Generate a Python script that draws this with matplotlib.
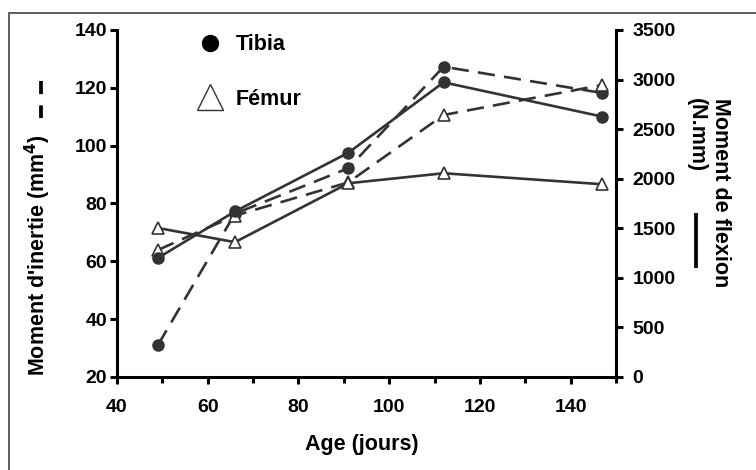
import matplotlib.pyplot as plt
from matplotlib.lines import Line2D
from matplotlib.patches import Rectangle
from matplotlib.ticker import MultipleLocator

plt.rcParams['font.family'] = ['Liberation Sans', 'DejaVu Sans']
plt.rcParams['font.weight'] = 'bold'

age = [49, 66, 91, 112, 147]
# moment d'inertie (mm4), left axis, dashed
tibia_inertie = [31, 76.5, 92.2, 127.3, 118.2]
femur_inertie = [63.9, 75.8, 87.3, 110.6, 121]
# moment de flexion (N.mm), right axis, solid
tibia_flexion = [1200, 1670, 2262, 2972, 2626]
femur_flexion = [1503, 1360, 1954, 2055, 1944]

ink = "#333333"
dash = (0, (6.5, 3.5))

fig = plt.figure(figsize=(7.56, 4.70), dpi=100)
ax = fig.add_axes([0.1548, 0.1979, 0.66, 0.7383])
ax2 = ax.twinx()

ax.plot(age, tibia_inertie, ls=dash, color=ink, lw=1.9, marker='o', ms=8, zorder=3)
ax.plot(age, femur_inertie, ls=dash, color=ink, lw=1.9, marker='^', ms=9,
        mfc='white', mec=ink, mew=1.2, zorder=3)
ax2.plot(age, tibia_flexion, ls='-', color=ink, lw=1.9, marker='o', ms=8)
ax2.plot(age, femur_flexion, ls='-', color=ink, lw=1.9, marker='^', ms=9,
         mfc='white', mec=ink, mew=1.2)

ax.set_xlim(40, 150)
ax.set_ylim(20, 140)
ax2.set_ylim(0, 3500)
ax.xaxis.set_major_locator(MultipleLocator(20))
ax.xaxis.set_minor_locator(MultipleLocator(10))
ax.yaxis.set_major_locator(MultipleLocator(20))
ax2.yaxis.set_major_locator(MultipleLocator(500))

for a in (ax, ax2):
    a.spines['top'].set_visible(False)
    for s in ('left', 'right', 'bottom'):
        a.spines[s].set_linewidth(2.2)
        a.spines[s].set_color('black')
ax.spines['right'].set_visible(False)
ax2.spines['left'].set_visible(False)
ax2.spines['bottom'].set_visible(False)

ax.tick_params(axis='x', which='major', direction='out', length=5, width=2.2,
               labelsize=14, pad=11)
ax.tick_params(axis='x', which='minor', direction='out', length=4.5, width=2.2)
ax.tick_params(axis='y', direction='out', length=5, width=2.2, labelsize=14, pad=2)
ax2.tick_params(axis='y', direction='out', length=5, width=2.2, labelsize=14, pad=7)

ax.set_xlabel("Age (jours)", fontsize=15.5, fontweight='bold')
ax.xaxis.set_label_coords(0.49, -0.165)
ax.set_ylabel("Moment d'inertie (mm$^\\mathbf{4}$)", fontsize=15.5, fontweight='bold')
ax.yaxis.set_label_coords(-0.128, 0.35)

fig.text(0.937, 0.7915, "Moment de flexion\n(N.mm)", rotation=-90, ha='center',
         va='top', multialignment='left', fontsize=15.5, fontweight='bold')

# line style keys next to the axis titles
fig.add_artist(Line2D([41 / 756] * 2, [1 - 81 / 470, 1 - 118 / 470], color='black',
                      lw=2.7, ls=(0, (3.5, 3.0)), solid_capstyle='butt',
                      dash_capstyle='butt'))
fig.add_artist(Line2D([696 / 756] * 2, [1 - 213 / 470, 1 - 268 / 470], color='black',
                      lw=2.7, solid_capstyle='butt'))

handles = [Line2D([], [], ls='none', marker='o', ms=11.5, color='black'),
           Line2D([], [], ls='none', marker='^', ms=19, mfc='white', mec=ink, mew=1)]
ax.legend(handles, ["Tibia", "Fémur"], loc='upper left',
          bbox_to_anchor=(0.235, 0.968), bbox_transform=fig.transFigure,
          frameon=False, fontsize=15.5, labelspacing=1.55, handlelength=1.2,
          handletextpad=0.6)

fig.add_artist(Rectangle((9 / 756, -0.1), 1.2, 1.1 - 13 / 470, transform=fig.transFigure,
                         fill=False, ec='#444444', lw=1.2, clip_on=False))

fig.savefig("out.png", dpi=100)
